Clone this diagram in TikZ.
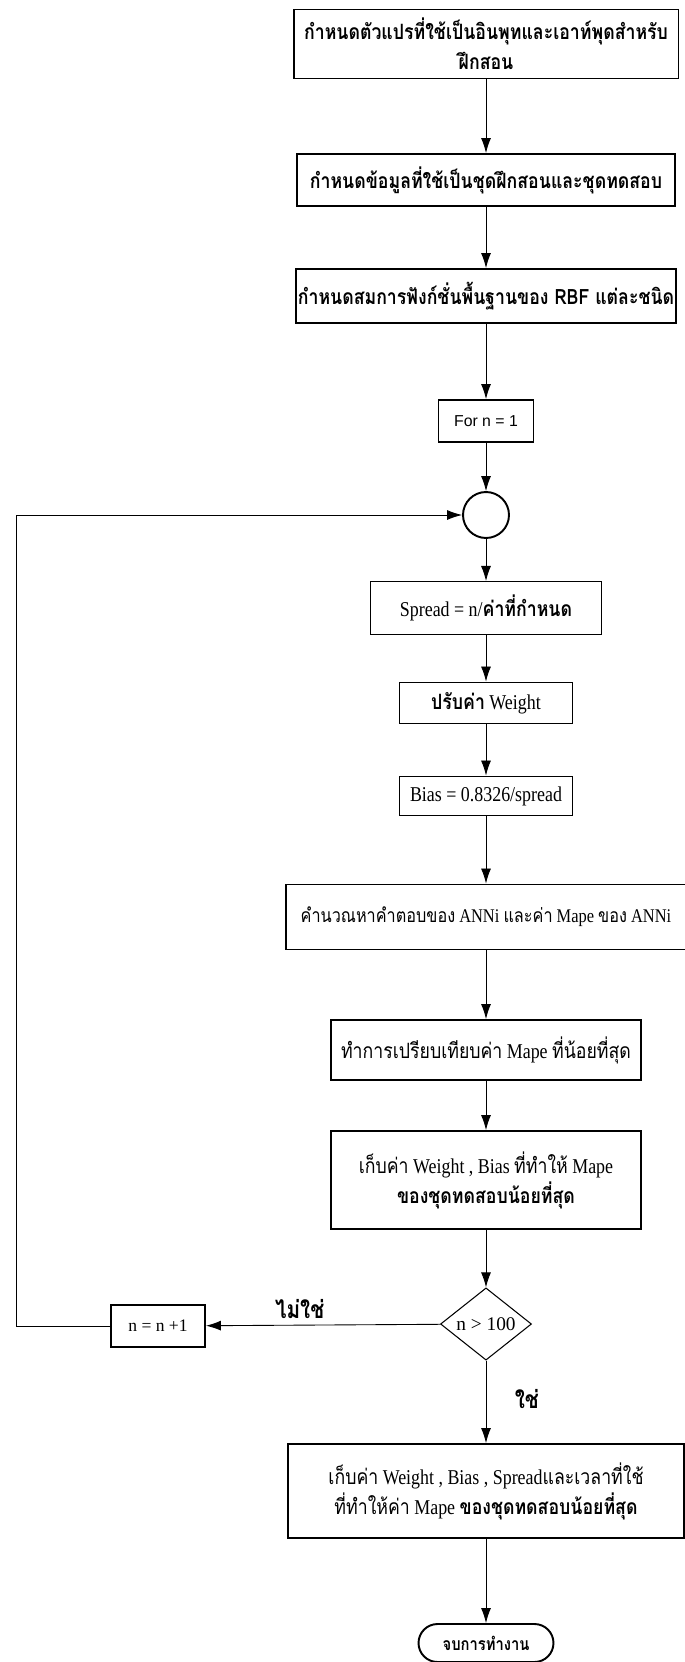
\documentclass[tikz,border=0pt]{standalone}
\usepackage{fontspec}
\setmainfont{Liberation Serif}
\setsansfont{Liberation Sans}
\newfontfamily\boxfont{Liberation Serif}[FakeStretch=0.85]
\newfontfamily\thaifont[Script=Thai, FakeStretch=0.84]{Loma}
\newcommand{\thai}[1]{{\thaifont #1}}
\newcommand{\thaibf}[1]{{\thaifont\bfseries #1}}
\usetikzlibrary{shapes.geometric, arrows.meta}

\begin{document}
\begin{tikzpicture}[x=0.02cm, y=-0.02cm, ->, >={Latex[length=3mm,width=2mm]}, line width=0.5pt,
		box/.style={draw, line width=1.1pt, align=center, inner sep=1pt, font=\boxfont\fontsize{12}{17}\selectfont},
		thinbox/.style={box, line width=0.6pt},
		decision/.style={draw, diamond, line width=0.6pt, inner sep=0pt, minimum width=1.82cm, minimum height=1.24cm, font=\fontsize{11}{13}\selectfont},
		label/.style={font=\fontsize{14}{16}\selectfont}]
	\useasboundingbox (0, 0) rectangle (684, 1662);
	\node[box, minimum width=7.7cm, minimum height=1.38cm] at (486, 44) (def-var) {\thaibf{กำหนดตัวแปรที่ใช้เป็นอินพุทและเอาท์พุดสำหรับ}\\\thaibf{ฝึกสอน}};
	\node[box, minimum width=7.56cm, minimum height=1.04cm] at (486, 180) (def-data) {\thaibf{กำหนดข้อมูลที่ใช้เป็นชุดฝึกสอนและชุดทดสอบ}};
	\node[box, minimum width=7.6cm, minimum height=1.08cm] at (486, 296) (def-rbf) {\thaibf{กำหนดสมการฟังก์ชั่นพื้นฐานของ RBF แต่ละชนิด}};
	\node[box, font=\sffamily\fontsize{9}{12}\selectfont, minimum width=1.9cm, minimum height=0.84cm] at (486, 421) (for-n) {For n = 1};
	\node[draw, circle, line width=1.1pt, minimum size=0.92cm] at (486, 515) (join) {};
	\node[thinbox, minimum width=4.62cm, minimum height=1.06cm] at (486, 608) (spread) {Spread = n/\thaibf{ค่าที่กำหนด}};
	\node[box, minimum width=3.46cm, minimum height=0.82cm] at (486, 703) (weight) {\thaibf{ปรับค่า} Weight};
	\node[box, minimum width=3.46cm, minimum height=0.78cm] at (486, 796) (bias) {Bias = 0.8326/spread};
	\node[box, font=\boxfont\fontsize{11}{15}\selectfont, minimum width=8cm, minimum height=1.3cm] at (486, 917) (calc-ann) {\thai{คำนวณหาคำตอบของ} ANNi \thai{และค่า} Mape \thai{ของ} ANNi};
	\node[box, minimum width=6.2cm, minimum height=1.2cm] at (486, 1050) (compare) {\thai{ทำการเปรียบเทียบค่า} Mape \thai{ที่น้อยที่สุด}};
	\node[box, minimum width=6.2cm, minimum height=1.96cm] at (486, 1180) (keep-best) {\thai{เก็บค่า} Weight , Bias \thai{ที่ทำให้} Mape\\\thaibf{ของชุดทดสอบน้อยที่สุด}};
	\node[decision] at (486, 1324) (check) {n \textgreater{} 100};
	\node[box, font=\fontsize{10}{12}\selectfont, minimum width=1.88cm, minimum height=0.84cm] at (158, 1326) (inc-n) {n = n +1};
	\node[box, minimum width=7.92cm, minimum height=1.88cm] at (486, 1491) (keep-all) {\thai{เก็บค่า} Weight , Bias , Spread\thai{และเวลาที่ใช้}\\\thai{ที่ทำให้ค่า} Mape \thaibf{ของชุดทดสอบน้อยที่สุด}};
	\node[draw, line width=1.1pt, rounded corners=0.38cm, minimum width=2.7cm, minimum height=0.76cm, font=\fontsize{10}{12}\selectfont] at (486, 1643) (stop) {\thaibf{จบการทำงาน}};
	\coordinate (loop-corner) at (16, 1326);

	\draw (def-var) -- (def-data);
	\draw (def-data) -- (def-rbf);
	\draw (def-rbf) -- (for-n);
	\draw (for-n) -- (join);
	\draw (join) -- (spread);
	\draw (spread) -- (weight);
	\draw (weight) -- (bias);
	\draw (bias) -- (calc-ann);
	\draw (calc-ann) -- (compare);
	\draw (compare) -- (keep-best);
	\draw (keep-best) -- (check);
	\draw (check) -- node[label, above, pos=0.6] {\thaibf{ไม่ใช่}} (inc-n);
	\draw[-] (inc-n) -- (loop-corner);
	\draw (loop-corner) |- (join);
	\draw (check) -- node[label, right, pos=0.47, xshift=0.45cm] {\thaibf{ใช่}} (keep-all);
	\draw (keep-all) -- (stop);
\end{tikzpicture}
\end{document}
